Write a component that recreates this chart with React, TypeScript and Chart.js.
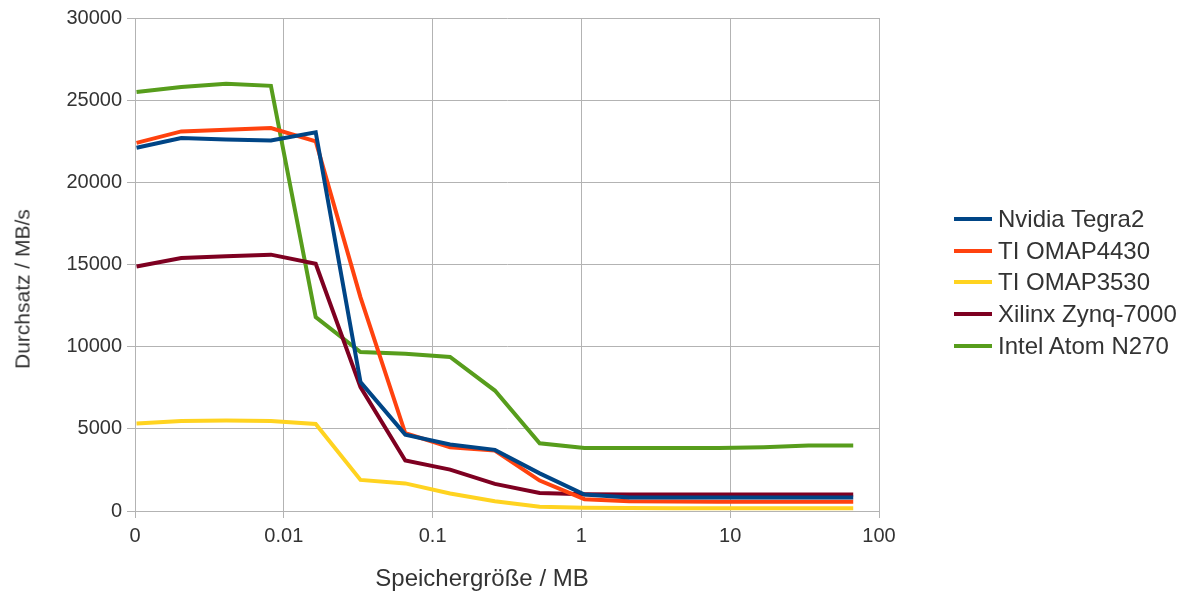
import React, { useEffect, useRef } from "react";
import { Chart, registerables } from "chart.js";

Chart.register(...registerables);

// Memory size in MB (1 KiB .. 64 MiB, expressed in decimal MB)
const sizesMB = [
  0.001024, 0.002048, 0.004096, 0.008192, 0.016384, 0.032768, 0.065536,
  0.131072, 0.262144, 0.524288, 1.048576, 2.097152, 4.194304, 8.388608,
  16.777216, 33.554432, 67.108864,
];

const seriesNames = [
  "Nvidia Tegra2",
  "TI OMAP4430",
  "TI OMAP3530",
  "Xilinx Zynq-7000",
  "Intel Atom N270",
];
const seriesColors = ["#004586", "#ff420e", "#ffd320", "#7e0021", "#579d1c"];

const tegra2 = [22100, 22700, 22600, 22550, 23050, 7850, 4650, 4050, 3720, 2290, 1000, 820, 820, 820, 820, 820, 820];
const omap4430 = [22400, 23100, 23200, 23300, 22500, 13000, 4730, 3880, 3680, 1850, 720, 600, 580, 570, 570, 570, 570];
const omap3530 = [5330, 5480, 5500, 5480, 5300, 1890, 1680, 1070, 590, 260, 200, 180, 170, 170, 170, 170, 170];
const zynq7000 = [14880, 15400, 15500, 15600, 15040, 7540, 3070, 2520, 1650, 1100, 1020, 1000, 1000, 1000, 1000, 1000, 1000];
const atomN270 = [25500, 25800, 26000, 25870, 11800, 9670, 9570, 9370, 7330, 4120, 3840, 3840, 3830, 3830, 3880, 3980, 3980];

const seriesValues = [tegra2, omap4430, omap3530, zynq7000, atomN270];

const xTickValues = [0.001, 0.01, 0.1, 1, 10, 100];
const xTickLabels = ["0", "0.01", "0.1", "1", "10", "100"];

const xTitle = "Speichergröße / MB";
const yTitle = "Durchsatz / MB/s";

const FONT = "'Liberation Sans', Arial, sans-serif";
const TEXT = "#333333";
const GRID = "#b3b3b3";

export default function App() {
  const canvasRef = useRef<HTMLCanvasElement | null>(null);

  useEffect(() => {
    document.body.style.margin = "0";
    const ctx = canvasRef.current!;
    const chart = new Chart(ctx, {
      type: "line",
      data: {
        datasets: seriesNames.map((name, s) => ({
          label: name,
          data: sizesMB.map((x, i) => ({ x, y: seriesValues[s][i] })),
          borderColor: seriesColors[s],
          backgroundColor: seriesColors[s],
          borderWidth: 4,
          pointRadius: 0,
          tension: 0,
          fill: false,
        })),
      },
      options: {
        animation: false,
        responsive: true,
        maintainAspectRatio: false,
        layout: { padding: { top: 18, right: 313, left: 0, bottom: 0 } },
        plugins: {
          legend: { display: false },
          tooltip: { enabled: false },
        },
        scales: {
          x: {
            type: "logarithmic",
            min: 0.001,
            max: 100,
            afterBuildTicks: (scale: any) => {
              scale.ticks = xTickValues.map((v) => ({ value: v }));
            },
            afterFit: (scale: any) => {
              scale.height = 85;
            },
            ticks: {
              autoSkip: false,
              maxRotation: 0,
              padding: 6,
              color: TEXT,
              font: { family: FONT, size: 20 },
              callback: (value: any) => {
                const idx = xTickValues.findIndex((v) => Math.abs(v - Number(value)) < v * 1e-6);
                return idx >= 0 ? xTickLabels[idx] : "";
              },
            },
            grid: { color: GRID, lineWidth: 1, tickLength: 7, drawTicks: true },
            border: { color: GRID },
          },
          y: {
            min: 0,
            max: 30000,
            afterFit: (scale: any) => {
              scale.width = 135;
            },
            ticks: {
              stepSize: 5000,
              padding: 5,
              color: TEXT,
              font: { family: FONT, size: 20 },
              callback: (value: any) => String(value),
            },
            grid: { color: GRID, lineWidth: 1, tickLength: 8, drawTicks: true },
            border: { color: GRID },
          },
        },
      },
    });
    return () => chart.destroy();
  }, []);

  const legendTop = 219;
  const legendStep = 31.7;

  return (
    <div style={{ position: "absolute", left: 0, top: 0, width: 1192, height: 596, background: "#fff", fontFamily: FONT, color: TEXT }}>
      <canvas ref={canvasRef} />
      <div
        style={{
          position: "absolute",
          left: 22,
          top: 289,
          transform: "translate(-50%, -50%) rotate(-90deg)",
          fontSize: 21,
          whiteSpace: "nowrap",
          lineHeight: 1,
        }}
      >
        {yTitle}
      </div>
      <div
        style={{
          position: "absolute",
          left: 482,
          top: 578,
          transform: "translate(-50%, -50%)",
          fontSize: 24,
          whiteSpace: "nowrap",
          lineHeight: 1,
        }}
      >
        {xTitle}
      </div>
      {seriesNames.map((name, i) => (
        <div
          key={name}
          style={{
            position: "absolute",
            left: 954,
            top: legendTop + i * legendStep,
            transform: "translateY(-50%)",
            display: "flex",
            alignItems: "center",
            whiteSpace: "nowrap",
          }}
        >
          <div style={{ width: 38, height: 4, background: seriesColors[i], marginRight: 6 }} />
          <span style={{ fontSize: 24, lineHeight: 1 }}>{name}</span>
        </div>
      ))}
    </div>
  );
}
